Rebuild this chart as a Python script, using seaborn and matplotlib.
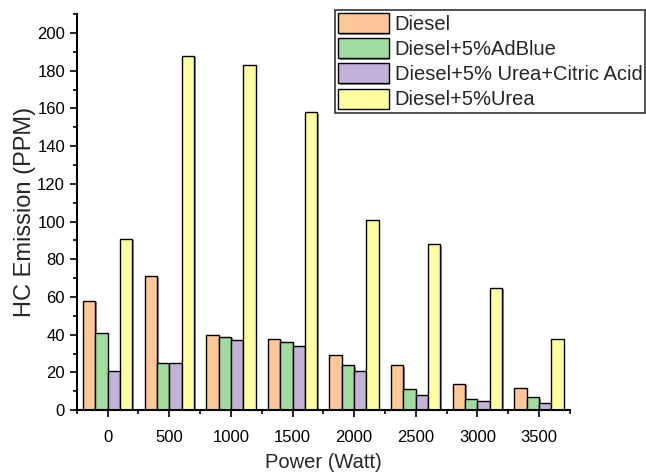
import pandas as pd
import numpy as np
import matplotlib.pyplot as plt
import matplotlib.patheffects as pe
import seaborn as sns
from matplotlib.ticker import MultipleLocator

sns.set_theme(style="ticks")
plt.rcParams['font.family'] = ['Liberation Sans', 'DejaVu Sans']

power = ['0', '500', '1000', '1500', '2000', '2500', '3000', '3500']
diesel = [58, 71, 40, 38, 29, 24, 14, 12]
adblue = [41, 25, 39, 36, 24, 11, 6, 7]
urea_citric = [21, 25, 37, 34, 21, 8, 5, 4]
urea = [91, 188, 183, 158, 101, 88, 65, 38]

fuels = ['Diesel', 'Diesel+5%AdBlue', 'Diesel+5% Urea+Citric Acid', 'Diesel+5%Urea']
colors = ['#FFC896', '#A0DCA0', '#C2B2D8', '#FFFFA0']

rows = []
for fuel, vals in zip(fuels, [diesel, adblue, urea_citric, urea]):
    for p, v in zip(power, vals):
        rows.append({'power': p, 'fuel': fuel, 'hc': v})
df = pd.DataFrame(rows)

fig = plt.figure(figsize=(6.46, 4.72), dpi=100)
ax = fig.add_axes([0.119, 0.131, 0.763, 0.839])

sns.barplot(data=df, x='power', y='hc', hue='fuel', order=power, hue_order=fuels,
            palette=colors, width=0.8, edgecolor='black', linewidth=1.0,
            saturation=1, ax=ax, legend=True)

# soft grey drop shadow like the original
for bar in ax.patches:
    bar.set_path_effects([pe.SimplePatchShadow(offset=(1.2, -1.2), shadow_rgbFace='0.45', alpha=0.8),
                          pe.Normal()])

ax.set_xlim(-0.5, 7.5)
ax.set_ylim(0, 210)
ax.yaxis.set_major_locator(MultipleLocator(20))
ax.yaxis.set_minor_locator(MultipleLocator(10))
ax.set_xticks(np.arange(-0.5, 8, 1), minor=True)
ax.tick_params(axis='both', which='major', direction='out', length=5, width=1.2,
               labelsize=12, color='black', labelcolor='black')
ax.tick_params(axis='both', which='minor', direction='out', length=3, width=1.2, color='black')
ax.tick_params(axis='x', pad=9)
for s in ['top', 'right']:
    ax.spines[s].set_visible(False)
for s in ['left', 'bottom']:
    ax.spines[s].set_linewidth(1.5)
    ax.spines[s].set_color('black')

ax.set_xlabel('Power (Watt)', fontsize=14.5, labelpad=6)
ax.set_ylabel('HC Emission (PPM)', fontsize=17, labelpad=1)

handles, labels = ax.get_legend_handles_labels()
ax.get_legend().remove()
leg = fig.legend(handles, labels, loc='upper left', bbox_to_anchor=(0.519, 0.979),
                 frameon=True, fancybox=False, fontsize=14.5, handlelength=2.5,
                 handleheight=1.15, handletextpad=0.3, labelspacing=0.22,
                 borderpad=0.15, borderaxespad=0)
leg.get_frame().set_edgecolor('black')
leg.get_frame().set_linewidth(1.2)

fig.savefig('out.png', dpi=100)
